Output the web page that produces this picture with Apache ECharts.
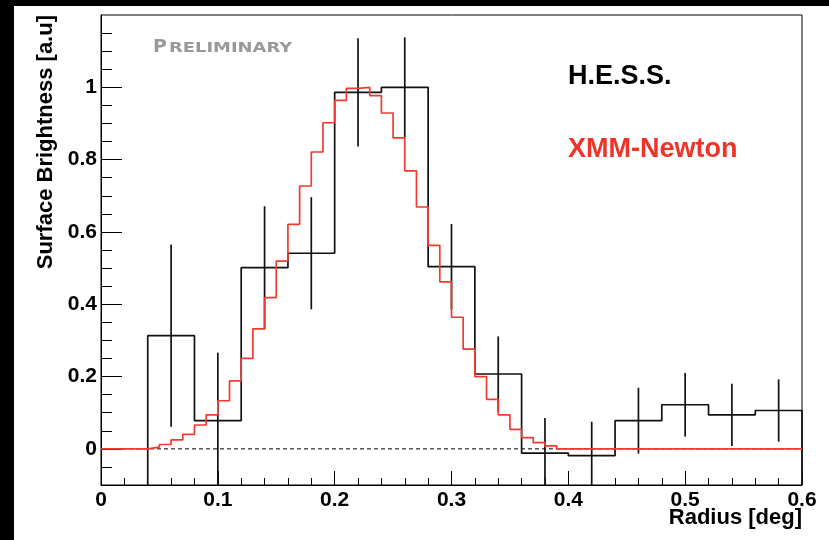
<!DOCTYPE html>
<html><head><meta charset="utf-8">
<script src="https://cdn.jsdelivr.net/npm/echarts@6/dist/echarts.min.js"></script>
<style>
html,body{margin:0;padding:0;background:#fff;width:829px;height:540px;overflow:hidden}
#c{position:absolute;left:0;top:0;width:829px;height:540px}
#bl{position:absolute;left:0;top:0;width:14px;height:540px;background:#000;z-index:5}
#bt{position:absolute;left:0;top:0;width:829px;height:6px;background:#000;z-index:5}
</style></head><body><div id="c"></div><div id="bl"></div><div id="bt"></div>
<script>
// H.E.S.S. radial profile (bins 0.04 wide)
const hessBinCenters = [0.06, 0.10, 0.14, 0.18, 0.22, 0.26, 0.30, 0.34, 0.38, 0.42, 0.46, 0.50, 0.54, 0.58];
const hessBinWidth = 0.04;
const hessValues = [0.313, 0.078, 0.501, 0.541, 0.986, 1.0, 0.504, 0.207, -0.012, -0.019, 0.078, 0.122, 0.094, 0.106];
const hessErrors = [0.252, 0.188, 0.17, 0.155, 0.15, 0.138, 0.118, 0.104, 0.097, 0.094, 0.091, 0.088, 0.086, 0.086];

// XMM-Newton profile (bins 0.01 wide)
const xmmBinLow = [0.04, 0.05, 0.06, 0.07, 0.08, 0.09, 0.10, 0.11, 0.12, 0.13, 0.14, 0.15, 0.16, 0.17, 0.18, 0.19, 0.20,
  0.21, 0.22, 0.23, 0.24, 0.25, 0.26, 0.27, 0.28, 0.29, 0.30, 0.31, 0.32, 0.33, 0.34, 0.35, 0.36, 0.37, 0.38];
const xmmBinWidth = 0.01;
const xmmValues = [0.005, 0.012, 0.025, 0.040, 0.066, 0.094, 0.133, 0.188, 0.250, 0.332, 0.418, 0.519, 0.621, 0.727,
  0.821, 0.902, 0.964, 0.997, 1.000, 0.977, 0.929, 0.860, 0.769, 0.669, 0.563, 0.462, 0.364, 0.276, 0.200, 0.137,
  0.094, 0.054, 0.031, 0.017, 0.008];

// axes
const xRange = [0, 0.6];
const yRange = [-0.1, 1.2];
const xTicks = [0, 0.1, 0.2, 0.3, 0.4, 0.5, 0.6];
const yTicks = [0, 0.2, 0.4, 0.6, 0.8, 1];
const yMinorTicks = [-0.05, 0.05, 0.1, 0.15, 0.25, 0.3, 0.35, 0.45, 0.5, 0.55, 0.65, 0.7, 0.75, 0.85, 0.9, 0.95, 1.05, 1.1, 1.15];

// build outlines
const hessOutline = [];
hessBinCenters.forEach((c, i) => {
  const lo = +(c - hessBinWidth / 2).toFixed(4), hi = +(c + hessBinWidth / 2).toFixed(4);
  if (i === 0) hessOutline.push([lo, yRange[0]]);
  hessOutline.push([lo, hessValues[i]], [hi, hessValues[i]]);
  if (i === hessBinCenters.length - 1) hessOutline.push([hi, yRange[0]]);
});
const xmmOutline = [[xRange[0], 0], [xmmBinLow[0], 0]];
xmmBinLow.forEach((lo, i) => {
  const hi = +(lo + xmmBinWidth).toFixed(4);
  xmmOutline.push([lo, xmmValues[i]], [hi, xmmValues[i]]);
});
xmmOutline.push([+(xmmBinLow[xmmBinLow.length - 1] + xmmBinWidth).toFixed(4), 0], [xRange[1], 0]);
const errData = hessBinCenters.map((c, i) => [c, hessValues[i], hessErrors[i]]);

const FONT = '"Liberation Sans", Arial, Helvetica, sans-serif';
const WIDE = '"DejaVu Sans", "Liberation Sans", sans-serif';
const chart = echarts.init(document.getElementById('c'), null, {renderer: 'canvas'});
chart.setOption({
  animation: false,
  backgroundColor: '#fff',
  grid: {left: 101, top: 15, right: 27, bottom: 55, show: true, borderColor: '#000', borderWidth: 1, backgroundColor: 'transparent'},
  xAxis: {
    type: 'value', min: xRange[0], max: xRange[1], interval: 0.1,
    axisLine: {show: true, onZero: false, lineStyle: {color: '#000', width: 1}},
    axisTick: {show: true, inside: true, length: 14, lineStyle: {color: '#000', width: 1}},
    minorTick: {show: true, splitNumber: 5, length: 7, lineStyle: {color: '#000', width: 1}},
    splitLine: {show: false},
    axisLabel: {color: '#000', fontSize: 21, fontWeight: 'bold', fontFamily: FONT, margin: 5,
      customValues: xTicks, formatter: v => String(+v.toFixed(1))}
  },
  yAxis: [{
    type: 'value', min: yRange[0], max: yRange[1],
    axisLine: {show: true, onZero: false, lineStyle: {color: '#000', width: 1}},
    axisTick: {show: true, inside: true, length: 21, customValues: yTicks, lineStyle: {color: '#000', width: 1}},
    splitLine: {show: false},
    axisLabel: {color: '#000', fontSize: 21, fontWeight: 'bold', fontFamily: FONT, margin: 4, padding: [4, 0, 0, 0],
      customValues: yTicks, formatter: v => String(+v.toFixed(1))}
  }, {
    type: 'value', min: yRange[0], max: yRange[1], position: 'left',
    axisLine: {show: false},
    axisTick: {show: true, inside: true, length: 11, customValues: yMinorTicks, lineStyle: {color: '#000', width: 1}},
    splitLine: {show: false},
    axisLabel: {show: false}
  }],
  series: [
    {type: 'line', name: 'zero', data: [[xRange[0], 0], [xRange[1], 0]], showSymbol: false, z: 1,
      lineStyle: {color: '#000', width: 1, type: [4, 3]}},
    {type: 'line', name: 'H.E.S.S.', data: hessOutline, showSymbol: false, z: 2,
      lineStyle: {color: '#111', width: 1.7}},
    {type: 'custom', name: 'H.E.S.S. errors', data: errData, z: 3,
      renderItem: function (params, api) {
        const x = api.value(0), y = api.value(1), e = api.value(2);
        const lo = Math.max(y - e, yRange[0]), hi = Math.min(y + e, yRange[1]);
        const p1 = api.coord([x, lo]), p2 = api.coord([x, hi]);
        return {type: 'line', shape: {x1: p1[0], y1: p1[1], x2: p2[0], y2: p2[1]},
          style: {stroke: '#111', lineWidth: 1.7}};
      }},
    {type: 'line', name: 'XMM-Newton', data: xmmOutline, showSymbol: false, z: 4,
      lineStyle: {color: '#f03a30', width: 1.7}}
  ],
  graphic: [
    {type: 'text', x: 46, y: 15, rotation: Math.PI / 2,
      style: {text: 'Surface Brightness [a.u]', font: 'bold 22px ' + FONT, fill: '#000', align: 'right', verticalAlign: 'middle'}},
    {type: 'text', x: 802, y: 518,
      style: {text: 'Radius [deg]', font: 'bold 22px ' + FONT, fill: '#000', align: 'right', verticalAlign: 'middle'}},
    {type: 'text', x: 153, y: 47.5, scaleX: 1.05,
      style: {text: 'P', font: 'bold 18px ' + WIDE, fill: '#999', align: 'left', verticalAlign: 'middle'}},
    {type: 'text', x: 169, y: 48.6, scaleX: 1.22,
      style: {text: 'RELIMINARY', font: 'bold 14.7px ' + WIDE, fill: '#999', align: 'left', verticalAlign: 'middle'}},
    {type: 'text', x: 568, y: 76.5,
      style: {text: 'H.E.S.S.', font: 'bold 27px ' + FONT, fill: '#000', align: 'left', verticalAlign: 'middle'}},
    {type: 'text', x: 568, y: 149.5,
      style: {text: 'XMM-Newton', font: 'bold 27px ' + FONT, fill: '#ee3328', align: 'left', verticalAlign: 'middle'}}
  ]
});
</script></body></html>
